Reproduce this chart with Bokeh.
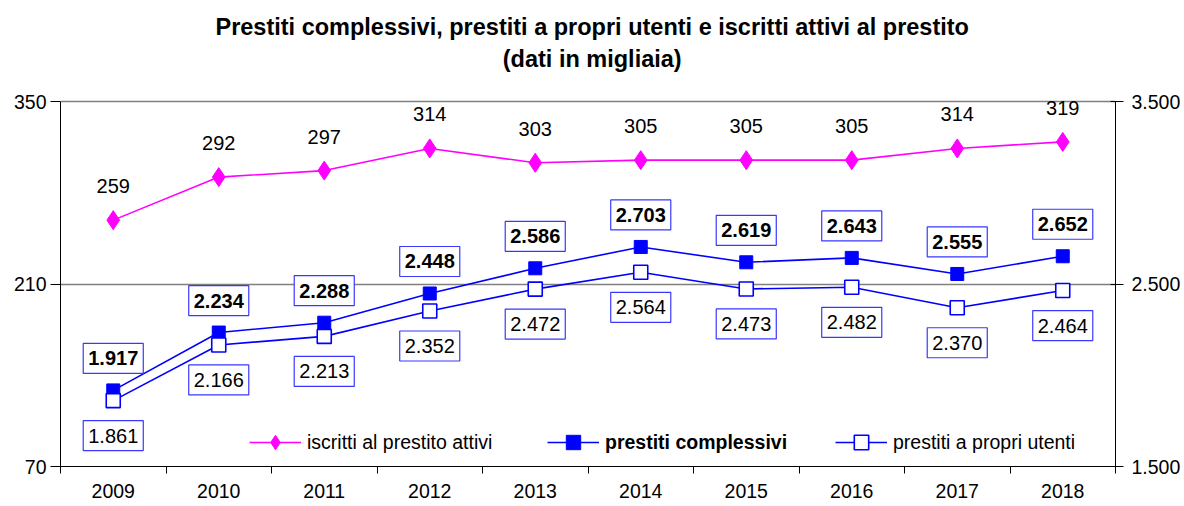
from bokeh.plotting import figure
from bokeh.models import (Range1d, LinearAxis, FixedTicker, ColumnDataSource,
                          Legend, LegendItem, Label)
from bokeh.core.properties import value
from bokeh.embed import file_html
from bokeh.resources import INLINE

years = [2009, 2010, 2011, 2012, 2013, 2014, 2015, 2016, 2017, 2018]
iscritti = [259, 292, 297, 314, 303, 305, 305, 305, 314, 319]
complessivi = [1917, 2234, 2288, 2448, 2586, 2703, 2619, 2643, 2555, 2652]
propri = [1861, 2166, 2213, 2352, 2472, 2564, 2473, 2482, 2370, 2464]
left_ticks = [70, 210, 350]
right_ticks = [1500, 2500, 3500]
title_lines = ["Prestiti complessivi, prestiti a propri utenti e iscritti attivi al prestito",
               "(dati in migliaia)"]

def it_fmt(v):
    return f"{v:,}".replace(",", ".")

FONT = "Liberation Sans"
MAG = "#FF00FF"
BLUE = "#0000FF"
BOX = "#3838FF"

W, H = 1184, 506
BOTTOM = 40          # px below plotting area
AXIS_PX = 365        # px covered by the axis span (70..350)
FRAME_PX = H - BOTTOM  # frame extends to the top of the canvas (title lives inside it)

def extend(lo, hi):
    return Range1d(lo, lo + (hi - lo) * FRAME_PX / AXIS_PX)

p = figure(width=W, height=H, output_backend="svg", toolbar_location=None,
           x_range=Range1d(years[0] - 0.5, years[-1] + 0.5),
           y_range=extend(left_ticks[0], left_ticks[-1]),
           min_border_left=60, min_border_right=69, min_border_top=0, min_border_bottom=BOTTOM)
p.extra_y_ranges = {"right": extend(right_ticks[0], right_ticks[-1])}
p.outline_line_color = None
p.background_fill_color = "white"
p.border_fill_color = "white"

# axes
xa = p.xaxis[0]
xa.ticker = FixedTicker(ticks=years, minor_ticks=[y - 0.5 for y in years] + [years[-1] + 0.5])
xa.major_tick_out = 0
xa.major_tick_in = 0
xa.minor_tick_out = 7
xa.minor_tick_in = 0
xa.minor_tick_line_color = "black"
xa.axis_line_color = "black"
xa.major_label_standoff = 10
xa.major_label_text_font = FONT
xa.major_label_text_font_size = "19.5px"
xa.major_label_text_color = "black"

ya = p.yaxis[0]
ya.ticker = FixedTicker(ticks=left_ticks)
ya.bounds = (left_ticks[0], left_ticks[-1])
ya.major_tick_out = 10
ya.major_tick_in = 0
ya.minor_tick_line_color = None
ya.axis_line_color = "black"
ya.major_label_text_font = FONT
ya.major_label_text_font_size = "19.5px"
ya.major_label_text_color = "black"
ya.major_label_standoff = 4

ra = LinearAxis(y_range_name="right", ticker=FixedTicker(ticks=right_ticks),
                bounds=(right_ticks[0], right_ticks[-1]),
                major_label_overrides={t: it_fmt(t) for t in right_ticks})
ra.major_tick_out = 8
ra.major_tick_in = 5
ra.minor_tick_line_color = None
ra.axis_line_color = "black"
ra.major_label_text_font = FONT
ra.major_label_text_font_size = "19.5px"
ra.major_label_text_color = "black"
ra.major_label_standoff = 8
p.add_layout(ra, "right")

p.xgrid.visible = False
p.ygrid.ticker = FixedTicker(ticks=left_ticks)
p.ygrid.grid_line_color = "#808080"
p.ygrid.grid_line_width = 1.6

# data
src = ColumnDataSource(dict(
    x=years, isc=iscritti, com=complessivi, pro=propri,
    isc_t=[str(v) for v in iscritti],
    com_t=[it_fmt(v) for v in complessivi],
    pro_t=[it_fmt(v) for v in propri],
))

l1 = p.line("x", "isc", source=src, line_color=MAG, line_width=1.6)
s1 = p.scatter("x", "isc", source=src, marker="diamond", size=19, fill_color=MAG, line_color=MAG)
l2 = p.line("x", "com", source=src, line_color=BLUE, line_width=1.6, y_range_name="right")
s2 = p.scatter("x", "com", source=src, marker="square", size=13, fill_color=BLUE, line_color=BLUE,
               y_range_name="right")
l3 = p.line("x", "pro", source=src, line_color=BLUE, line_width=1.6, y_range_name="right")
s3 = p.scatter("x", "pro", source=src, marker="square", size=14, fill_color="white", line_color=BLUE,
               line_width=1.6, y_range_name="right")

p.text("x", "isc", text="isc_t", source=src, y_offset=-34, text_align="center",
       text_baseline="middle", text_font=value(FONT), text_font_size="20px", text_color="black")
p.text("x", "com", text="com_t", source=src, y_offset=-32, text_align="center",
       text_baseline="middle", text_font=value(FONT), text_font_size="20px", text_font_style="bold",
       text_color="black", y_range_name="right", border_line_color=BOX, border_line_width=1.2,
       background_fill_color="white", padding=(5, 8))
p.text("x", "pro", text="pro_t", source=src, y_offset=35, text_align="center",
       text_baseline="middle", text_font=value(FONT), text_font_size="20px",
       text_color="black", y_range_name="right", border_line_color=BOX, border_line_width=1.2,
       background_fill_color="white", padding=(5, 8))

# legends
def mk_legend(label, rends, xpos, bold=False):
    lg = Legend(items=[LegendItem(label=label, renderers=rends)], location=(xpos, 6),
                orientation="horizontal", glyph_width=52, glyph_height=36, label_height=36,
                label_standoff=6, padding=0, margin=0, spacing=0,
                border_line_color=None, background_fill_alpha=0,
                label_text_font=FONT, label_text_font_size="19.5px",
                label_text_font_style="bold" if bold else "normal", label_text_color="black")
    p.add_layout(lg, "center")

mk_legend("iscritti al prestito attivi", [l1, s1], 249 - 60)
mk_legend("prestiti complessivi", [l2, s2], 547 - 60, bold=True)
mk_legend("prestiti a propri utenti", [l3, s3], 835 - 60)

# title: two centred lines in the empty band above the axis span
def px_to_left(ypx):
    return left_ticks[0] + (FRAME_PX - ypx) * (left_ticks[-1] - left_ticks[0]) / AXIS_PX

x_mid = (years[0] + years[-1]) / 2 + 0.04
for txt, ypx in zip(title_lines, (26, 58)):
    p.add_layout(Label(x=x_mid, y=px_to_left(ypx), text=txt,
                       text_align="center", text_baseline="middle", text_font=FONT,
                       text_font_size="23.5px", text_font_style="bold", text_color="black"))

open("out.html", "w").write(file_html(p, INLINE))
